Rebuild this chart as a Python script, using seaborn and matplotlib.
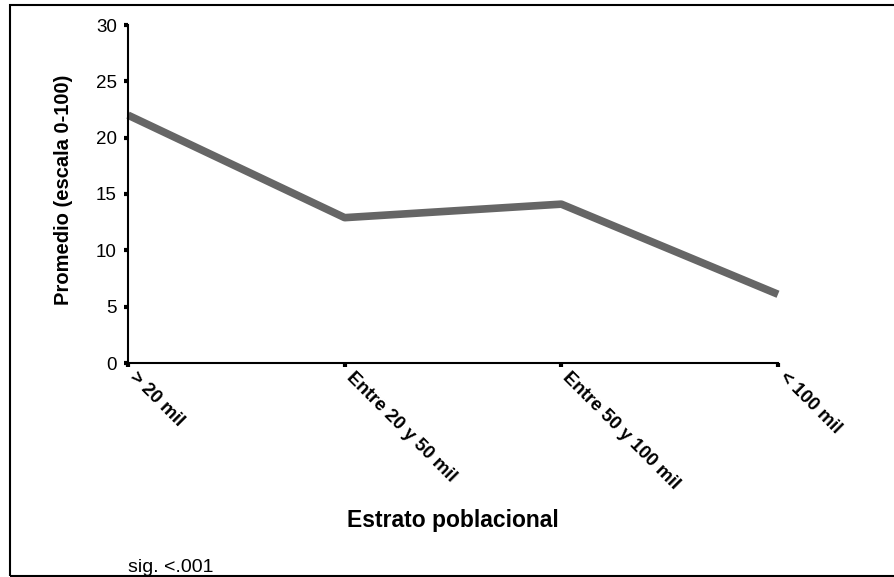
import matplotlib
matplotlib.use('Agg')
import matplotlib.pyplot as plt
import matplotlib.transforms as mtransforms
import seaborn as sns
import pandas as pd
from matplotlib.patches import Rectangle

categories = ["> 20 mil", "Entre 20 y 50 mil", "Entre 50 y 100 mil", "< 100 mil"]
values = [22.0, 12.9, 14.1, 6.1]
yticks = [0, 5, 10, 15, 20, 25, 30]

sns.set_theme(style='white')
plt.rcParams['font.family'] = ['Liberation Sans', 'DejaVu Sans']
plt.rcParams['text.color'] = 'black'
plt.rcParams['axes.labelcolor'] = 'black'
plt.rcParams['xtick.color'] = 'black'
plt.rcParams['ytick.color'] = 'black'

fig = plt.figure(figsize=(8.95, 5.77), dpi=100)
ax = fig.add_axes([128/895, 1-363/577, 650/895, 338/577])
df = pd.DataFrame({'cat': categories, 'val': values})
sns.lineplot(data=df, x='cat', y='val', ax=ax, color='#666666', linewidth=5.5, sort=False)
for ln in ax.lines:
    ln.set_clip_on(False)
    ln.set_solid_capstyle('butt')

ax.set_xlim(0, 3)
ax.set_ylim(0, 30)
ax.set_yticks(yticks)
ax.set_yticklabels([str(t) for t in yticks], fontsize=13.5, color='black')
ax.set_xticks(range(len(categories)))
ax.set_xticklabels(categories, rotation=-45, ha='left', va='center',
                   rotation_mode='anchor', fontweight='bold', fontsize=13.5, color='black')
for s in ['top', 'right']:
    ax.spines[s].set_visible(False)
for s in ['left', 'bottom']:
    ax.spines[s].set_color('black')
    ax.spines[s].set_linewidth(1.5)
ax.tick_params(axis='both', direction='out', length=3, width=3, color='black',
               labelcolor='black', bottom=True, left=True)
ax.tick_params(axis='y', pad=5)
ax.tick_params(axis='x', pad=5.5)
ax.set_xlabel('')
ax.set_ylabel('')

shift = mtransforms.ScaledTranslation(4/100, 0, fig.dpi_scale_trans)
for lab in ax.get_xticklabels():
    lab.set_transform(lab.get_transform() + shift)

fig.text(64/895, 1-190/577, 'Promedio (escala 0-100)', rotation=90, ha='center',
         va='center', fontweight='bold', fontsize=14.5, color='black')
fig.text(453/895, 1-521/577, 'Estrato poblacional', ha='center', va='center',
         fontweight='bold', fontsize=16.5, color='black')
fig.text(128/895, 1-567/577, 'sig. <.001', ha='left', va='center', fontsize=14,
         color='black')

fig.patches.append(Rectangle((10/895, 1/577), 1.2, 1-6/577, transform=fig.transFigure,
                             fill=False, edgecolor='black', linewidth=1.5, clip_on=False))

fig.savefig('out.png', dpi=100)
